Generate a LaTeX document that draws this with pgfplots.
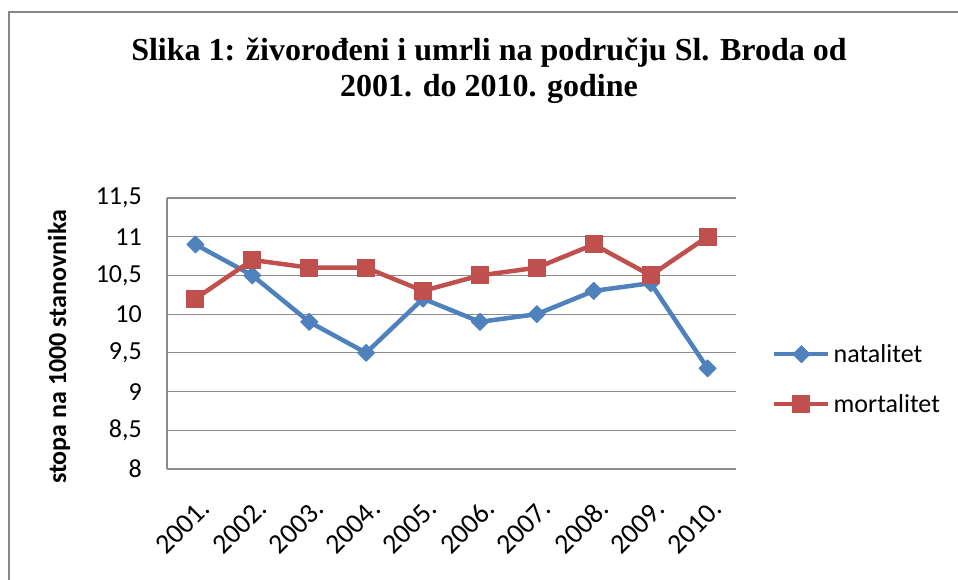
\documentclass[border=0pt]{standalone}
\usepackage{fontspec}
\setmainfont{Carlito}
\newfontfamily\titlefont{Liberation Serif}
\usepackage{pgfplots}
\pgfplotsset{compat=1.18}
\definecolor{natblue}{HTML}{4F81BD}
\definecolor{mortred}{HTML}{C0504D}
\definecolor{framegray}{HTML}{868686}
\definecolor{gridgray}{HTML}{8C8C8C}

\begin{document}
\begin{tikzpicture}
\useasboundingbox (0pt,0pt) rectangle (958pt,580pt);
% outer chart frame (cut off at right and bottom)
\draw[framegray, line width=2.2pt] (9pt,0pt) -- (9pt,568pt) -- (958pt,568pt);
% title
\node[anchor=base, font=\titlefont\bfseries\fontsize{32}{36}\selectfont] at (489pt,519pt)
  {Slika 1: živorođeni i umrli na području Sl. Broda od};
\node[anchor=base, font=\titlefont\bfseries\fontsize{32}{36}\selectfont] at (489pt,483pt)
  {2001. do 2010. godine};
% y label
\node[rotate=90, font=\bfseries\fontsize{26}{30}\selectfont] at (59pt,233pt)
  {stopa na 1000 stanovnika};

\begin{axis}[
  at={(167pt,111pt)}, anchor=south west,
  scale only axis, width=569pt, height=271pt,
  xmin=-0.5, xmax=9.5, ymin=8, ymax=11.5,
  xtick={0,...,9},
  xticklabels={2001.,2002.,2003.,2004.,2005.,2006.,2007.,2008.,2009.,2010.},
  ytick={8,8.5,9,9.5,10,10.5,11,11.5},
  ymajorgrids,
  grid style={gridgray, line width=1.2pt},
  axis x line*=bottom, axis y line*=left,
  axis line style={gridgray, line width=1.2pt, -},
  major tick length=0pt,
  tick label style={font=\fontsize{26}{30}\selectfont},
  /pgf/number format/assume math mode=true,
  /pgf/number format/use comma,
  yticklabel style={anchor=east, inner sep=0pt, xshift=-25pt},
  xticklabel style={font=\fontsize{28}{32}\selectfont, anchor=north east, inner sep=0pt,
    yshift=-28pt, xshift=3pt, rotate=45},
  legend cell align=left,
  legend style={draw=none, fill=none, at={(1.0633,0.332)}, anchor=west,
    inner sep=0pt, row sep=24pt, nodes={inner sep=3pt},
    font=\fontsize{26}{30}\selectfont},
  legend image code/.code={
    \draw[mark repeat=2, mark phase=2, #1] plot coordinates {(0pt,0pt) (27pt,0pt) (54pt,0pt)};},
]
\addplot[natblue, line width=4.5pt, line join=round, mark=square*, mark size=6pt,
  mark options={rotate=45, line width=1pt, solid}]
  coordinates {(0,10.9) (1,10.5) (2,9.9) (3,9.5) (4,10.2) (5,9.9) (6,10.0) (7,10.3) (8,10.4) (9,9.3)};
\addplot[mortred, line width=4.5pt, line join=round, mark=square*, mark size=8.5pt,
  mark options={line width=1pt, solid}]
  coordinates {(0,10.2) (1,10.7) (2,10.6) (3,10.6) (4,10.3) (5,10.5) (6,10.6) (7,10.9) (8,10.5) (9,11.0)};
\legend{natalitet, mortalitet}
\end{axis}
\end{tikzpicture}
\end{document}
